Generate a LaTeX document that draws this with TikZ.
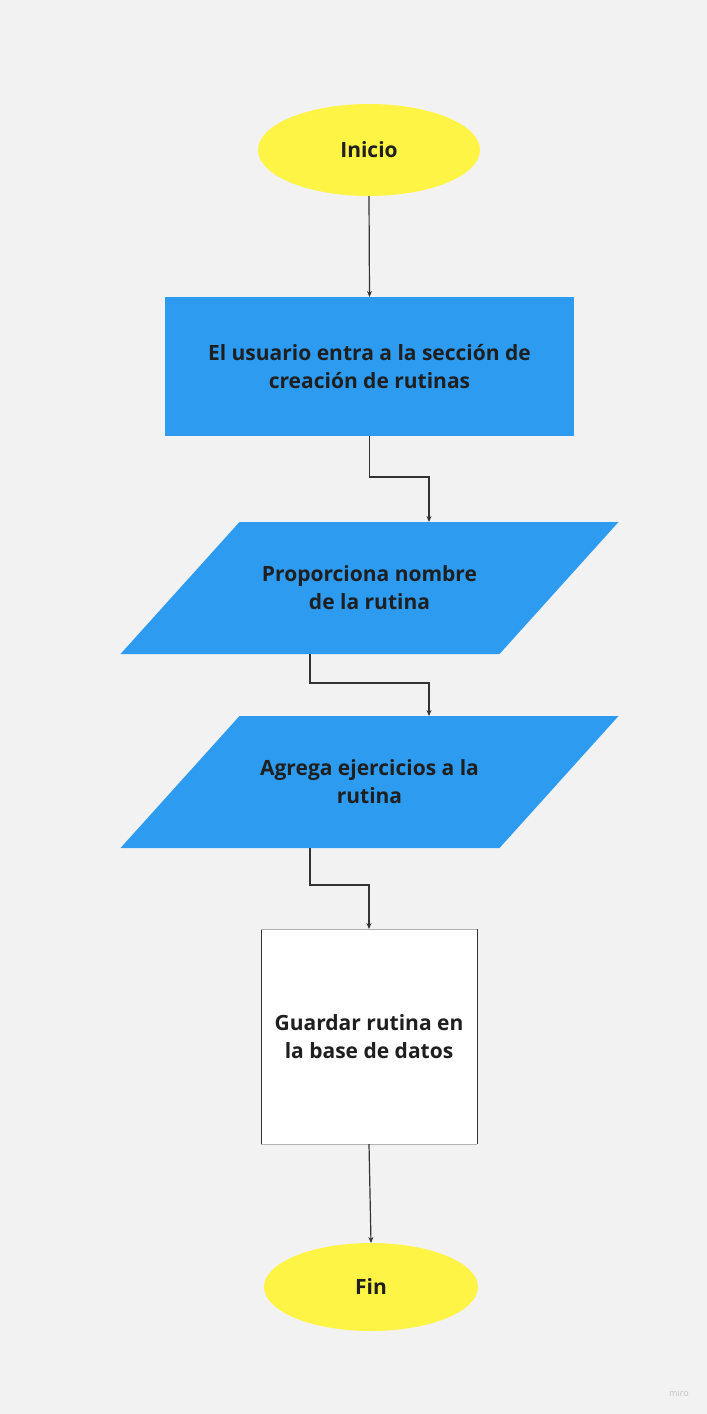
\documentclass[tikz,border=0pt]{standalone}
\usepackage{fontspec}
\setmainfont{Open Sans}
\usepackage{tikz}
\usetikzlibrary{arrows.meta,shapes.geometric,backgrounds}
\definecolor{fondo}{HTML}{F2F2F2}
\definecolor{amarillo}{HTML}{FEF445}
\definecolor{azul}{HTML}{2D9BF0}
\definecolor{texto}{HTML}{1F1F1F}
\definecolor{linea}{HTML}{333333}

\begin{document}
\begin{tikzpicture}[x=1pt,y=-1pt,
  every node/.style={inner sep=0pt,outer sep=0pt,text=texto,align=center,
    font=\fontsize{21}{28}\selectfont\bfseries},
  term/.style={ellipse,fill=amarillo},
  proc/.style={rectangle,fill=azul},
  io/.style={rectangle,minimum width=379pt,minimum height=132pt},
  store/.style={rectangle,fill=white,minimum width=216pt,minimum height=215pt},
  flecha/.style={draw=linea,line width=1.2pt,-{Stealth[length=6pt,width=5pt]}}]
\useasboundingbox (0,0) rectangle (707,1414);
\begin{scope}[on background layer]
\fill[fondo] (0,0) rectangle (707,1414);
\end{scope}
% nodos
\node[term,minimum width=222pt,minimum height=92pt] (inicio) at (369,150) {Inicio};
\node[proc,minimum width=409pt,minimum height=139pt] (entra) at (369.5,366.5)
  {El usuario entra a la sección de\\creación de rutinas};
\node[io] (nombre) at (369.5,588) {Proporciona nombre\\de la rutina};
\node[io] (ejercicios) at (369.5,782) {Agrega ejercicios a la\\rutina};
\begin{scope}[on background layer]
\foreach \p in {nombre,ejercicios}
  \fill[azul] ([xshift=59.5pt]\p.north west) -- ([xshift=59.5pt]\p.north east)
    -- ([xshift=-59.5pt]\p.south east) -- ([xshift=-59.5pt]\p.south west) -- cycle;
\end{scope}
\node[store] (guardar) at (369,1036.5) {Guardar rutina en\\la base de datos};
\draw[linea,line width=0.8pt] (guardar.north west) -- (guardar.south west);
\draw[linea,line width=0.8pt] (guardar.north east) -- (guardar.south east);
\draw[gray!60,line width=0.8pt] (guardar.north west) -- (guardar.north east);
\draw[gray!60,line width=0.8pt] (guardar.south west) -- (guardar.south east);
\node[term,minimum width=214pt,minimum height=88pt] (fin) at (371,1287) {Fin};
\node[font=\fontsize{9}{11}\selectfont,text=gray!50] (marca) at (679,1393) {miro};
% conectores
\draw[flecha] (inicio.south) -- (entra.north);
\draw[flecha] (entra.south) -- ++(0,41) -| ([xshift=59.5pt]nombre.north);
\draw[flecha] ([xshift=-59.5pt]nombre.south) -- ++(0,29) -| ([xshift=59.5pt]ejercicios.north);
\draw[flecha] ([xshift=-59.5pt]ejercicios.south) -- ++(0,37) -| (guardar.north);
\draw[flecha] (guardar.south) -- (fin.north);
\end{tikzpicture}
\end{document}
